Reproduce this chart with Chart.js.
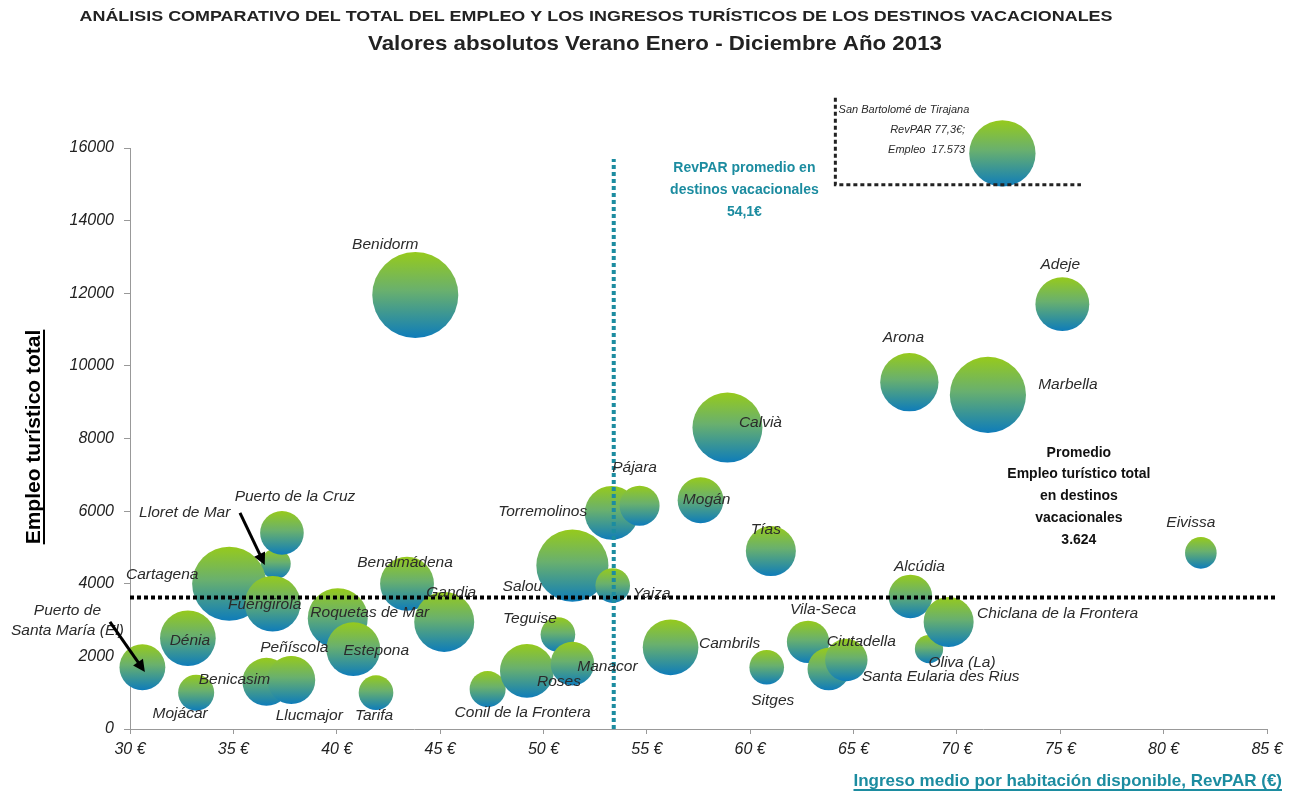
<!DOCTYPE html>
<html>
<head>
<meta charset="utf-8">
<title>Empleo e ingresos turísticos 2013</title>
<script src="https://cdn.jsdelivr.net/npm/chart.js@4/dist/chart.umd.min.js"></script>
<style>
    html, body { margin: 0; padding: 0; background: #fff; overflow: hidden; }
    #wrap { width: 1301px; height: 793px; position: relative; }
    #wrap canvas { display: block; }
</style>
</head>
<body>
<div id="wrap"><canvas id="burbujas"></canvas></div>
<script>
// destinos vacacionales
const destinos = [
    'Puerto de\nSanta María (El)', 'Mojácar', 'Dénia', 'Lloret de Mar', 'Cartagena', 'Puerto de la Cruz',
    'Fuengirola', 'Benicasim', 'Peñíscola', 'Llucmajor', 'Tarifa', 'Roquetas de Mar', 'Estepona',
    'Benalmádena', 'Gandia', 'Benidorm', 'Conil de la Frontera', 'Roses', 'Teguise', 'Manacor',
    'Salou', 'Torremolinos', 'Yaiza', 'Pájara', 'Mogán', 'Calvià', 'Cambrils', 'Sitges', 'Tías',
    'Vila-Seca', 'Santa Eularia des Rius', 'Ciutadella', 'Oliva (La)', 'Alcúdia',
    'Chiclana de la Frontera', 'Arona', 'Marbella', 'Adeje', 'Eivissa', 'San Bartolomé de Tirajana'
];
// RevPAR (€)
const revpar = [
    30.6, 33.2, 32.8, 37.05, 34.8, 37.35,
    36.9, 36.6, 37.8, 37.8, 41.9, 40.05, 40.8,
    43.4, 45.2, 43.8, 47.3, 49.2, 50.7, 51.4,
    51.4, 53.3, 53.35, 54.65, 57.6, 58.9, 56.15, 60.8, 61.0,
    62.8, 63.8, 64.65, 68.65, 67.75,
    69.6, 67.7, 71.5, 75.1, 81.8, 72.2
];
// Empleo turístico total
const empleo = [
    1700, 1000, 2500, 4550, 4000, 5400,
    3450, 1300, 1400, 1350, 1000, 3050, 2200,
    4000, 2950, 11950, 1100, 1600, 2600, 1800,
    4500, 5950, 3950, 6150, 6300, 8300, 2250, 1700, 4900,
    2400, 1650, 1900, 2200, 3650,
    2950, 9550, 9200, 11700, 4850, 15850
];
// tamaño relativo de la burbuja
const tamano = [
    21, 13, 31, 9, 55, 19,
    31, 23, 19, 23, 12, 36, 29,
    29, 36, 74, 13, 29, 12, 19,
    52, 29, 12, 16, 21, 49, 31, 12, 25,
    18, 18, 18, 8, 19,
    25, 34, 58, 29, 10, 44
];

const promedioRevpar = 54.1;
const promedioEmpleo = 3624;
const lineaRevpar = 53.4;   // posición dibujada de la línea vertical

// posicion de las etiquetas respecto al centro (px)
const etiquetaDx = [
    -75, -16, 2, -91, -67, 13,
    -8, -32, 3, 18, -2, 32, 23,
    -2, 7, -30, 35, 32, -28, 35,
    -50, -69, 39, -5, 6, 33, 59, 6, -5,
    15, 112, 15, 33, 9,
    109, -6, 80, -2, -10, null
];
const etiquetaDy = [
    -47, 21, 2, -51, -9, -36,
    1, -2, -30, 36, 23, -6, 2,
    -21, -29, -50, 24, 11, -16, 3,
    21, -1, 8, -38, -1, -5, -4, 33, -21,
    -32, 8, -18, 14, -30,
    -8, -45, -10, -39, -30, null
];

const TEAL = 'rgb(28, 140, 160)';
const FONT = '"Liberation Sans", Arial, sans-serif';

function getData()
{
    let datos = [];
    for ( let i = 0; i < destinos.length; i++ )
    {
        datos.push( { x: revpar[ i ], y: empleo[ i ], r: Math.sqrt( tamano[ i ] ) * 5 } );
    }
    return datos;
}

function gradiente( context )
{
    const chart = context.chart;
    if ( !chart.chartArea || !context.raw )
    {
        return 'rgb(95, 170, 120)';
    }
    const yPx = chart.scales.y.getPixelForValue( context.raw.y );
    const r = context.raw.r;
    const g = chart.ctx.createLinearGradient( 0, yPx - r, 0, yPx + r );
    g.addColorStop( 0, 'rgb(150, 202, 28)' );
    g.addColorStop( 0.45, 'rgb(105, 176, 110)' );
    g.addColorStop( 1, 'rgb(14, 124, 186)' );
    return g;
}

function flecha( ctx, x1, y1, x2, y2 )
{
    const ang = Math.atan2( y2 - y1, x2 - x1 );
    ctx.save();
    ctx.strokeStyle = '#000';
    ctx.fillStyle = '#000';
    ctx.lineWidth = 3;
    ctx.beginPath();
    ctx.moveTo( x1, y1 );
    ctx.lineTo( x2 - 8 * Math.cos( ang ), y2 - 8 * Math.sin( ang ) );
    ctx.stroke();
    ctx.beginPath();
    ctx.moveTo( x2, y2 );
    ctx.lineTo( x2 - 12 * Math.cos( ang ) + 6 * Math.sin( ang ), y2 - 12 * Math.sin( ang ) - 6 * Math.cos( ang ) );
    ctx.lineTo( x2 - 12 * Math.cos( ang ) - 6 * Math.sin( ang ), y2 - 12 * Math.sin( ang ) + 6 * Math.cos( ang ) );
    ctx.closePath();
    ctx.fill();
    ctx.restore();
}

function textoSubrayado( ctx, texto, x, y, align )
{
    ctx.textAlign = align;
    ctx.fillText( texto, x, y );
    const w = ctx.measureText( texto ).width;
    const x0 = align === 'right' ? x - w : ( align === 'center' ? x - w / 2 : x );
    ctx.fillRect( x0, y + 3, w, 2 );
}

// texto centrado y estirado/comprimido a un ancho dado
function textoAncho( ctx, texto, cx, y, ancho )
{
    const w = ctx.measureText( texto ).width;
    ctx.save();
    ctx.translate( cx, y );
    ctx.scale( ancho / w, 1 );
    ctx.textAlign = 'center';
    ctx.fillText( texto, 0, 0 );
    ctx.restore();
}

const decoracion = {
    id: 'decoracion',
    afterDatasetsDraw( chart )
    {
        const ctx = chart.ctx;
        const sx = chart.scales.x;
        const sy = chart.scales.y;
        const px = v => sx.getPixelForValue( v );
        const py = v => sy.getPixelForValue( v );

        ctx.save();
        ctx.lineCap = 'butt';
        ctx.lineWidth = 4;
        ctx.setLineDash( [ 4, 3 ] );

        // promedio empleo
        ctx.strokeStyle = '#000';
        ctx.beginPath();
        ctx.moveTo( sx.left, py( promedioEmpleo ) );
        ctx.lineTo( sx.right + 8, py( promedioEmpleo ) );
        ctx.stroke();

        // promedio revpar
        ctx.strokeStyle = TEAL;
        ctx.beginPath();
        ctx.moveTo( px( lineaRevpar ), sy.bottom );
        ctx.lineTo( px( lineaRevpar ), py( 15700 ) );
        ctx.stroke();

        // recuadro San Bartolomé
        ctx.strokeStyle = '#222';
        ctx.lineWidth = 3;
        ctx.beginPath();
        ctx.moveTo( px( 64.12 ), py( 17384 ) );
        ctx.lineTo( px( 64.12 ), py( 14988 ) );
        ctx.lineTo( px( 76.0 ), py( 14988 ) );
        ctx.stroke();
        ctx.restore();

        // etiquetas
        const meta = chart.getDatasetMeta( 0 );
        ctx.save();
        ctx.font = 'italic 15.5px ' + FONT;
        ctx.fillStyle = '#2b2b2b';
        ctx.textAlign = 'center';
        ctx.textBaseline = 'middle';
        meta.data.forEach( ( el, i ) =>
        {
            if ( etiquetaDx[ i ] === null ) return;
            const lineas = destinos[ i ].split( '\n' );
            const y0 = el.y + etiquetaDy[ i ] - ( lineas.length - 1 ) * 10;
            lineas.forEach( ( l, k ) => ctx.fillText( l, el.x + etiquetaDx[ i ], y0 + k * 20 ) );
        } );

        // texto San Bartolomé
        ctx.font = 'italic 11px ' + FONT;
        ctx.textAlign = 'right';
        ctx.fillText( 'San Bartolomé de Tirajana', px( 70.6 ), py( 17050 ) );
        ctx.fillText( 'RevPAR 77,3€;', px( 70.4 ), py( 16500 ) );
        ctx.fillText( 'Empleo  17.573', px( 70.4 ), py( 15950 ) );

        // flechas
        flecha( ctx, px( 35.32 ), py( 5951 ), px( 36.52 ), py( 4518 ) );
        flecha( ctx, px( 29.03 ), py( 2948 ), px( 30.72 ), py( 1570 ) );

        // texto promedio revpar
        ctx.font = 'bold 14px ' + FONT;
        ctx.fillStyle = TEAL;
        ctx.textAlign = 'center';
        ctx.fillText( 'RevPAR promedio en', px( 59.72 ), py( 15456 ) );
        ctx.fillText( 'destinos vacacionales', px( 59.72 ), py( 14830 ) );
        ctx.fillText( '54,1€', px( 59.72 ), py( 14230 ) );

        // texto promedio empleo
        ctx.fillStyle = '#111';
        const lineasProm = [ 'Promedio', 'Empleo turístico total', 'en destinos', 'vacacionales', '3.624' ];
        lineasProm.forEach( ( l, k ) => ctx.fillText( l, px( 75.9 ), py( 7604 ) + k * 21.7 ) );
        ctx.restore();
    },
    afterDraw( chart )
    {
        const ctx = chart.ctx;
        ctx.save();
        ctx.fillStyle = '#222';
        ctx.textBaseline = 'middle';
        ctx.font = 'bold 14px ' + FONT;
        textoAncho( ctx, 'ANÁLISIS COMPARATIVO DEL TOTAL DEL EMPLEO Y LOS INGRESOS TURÍSTICOS DE LOS DESTINOS VACACIONALES', 596, 17, 1033 );
        ctx.font = 'bold 21px ' + FONT;
        textoAncho( ctx, 'Valores absolutos Verano Enero - Diciembre Año 2013', 655, 44, 574 );

        // titulo eje x
        ctx.fillStyle = TEAL;
        ctx.font = 'bold 17px ' + FONT;
        ctx.textBaseline = 'alphabetic';
        textoSubrayado( ctx, 'Ingreso medio por habitación disponible, RevPAR (€)', 1282, 786, 'right' );

        // titulo eje y
        ctx.translate( 40, 437 );
        ctx.rotate( -Math.PI / 2 );
        ctx.fillStyle = '#000';
        ctx.font = 'bold 21px ' + FONT;
        textoSubrayado( ctx, 'Empleo turístico total', 0, 0, 'center' );
        ctx.restore();
    }
};

const config = {
    type: 'bubble',
    data: {
        datasets: [
            {
                label: 'Destinos',
                data: getData(),
                backgroundColor: gradiente,
                borderWidth: 0,
                hoverBorderWidth: 0,
                clip: false
            }
        ]
    },
    options: {
        responsive: true,
        maintainAspectRatio: false,
        animation: false,
        events: [],
        layout: {
            autoPadding: false,
            padding: { top: 148, right: 34, left: 0, bottom: 0 }
        },
        plugins: {
            legend: { display: false },
            title: { display: false },
            tooltip: { enabled: false }
        },
        scales: {
            x: {
                type: 'linear',
                min: 30,
                max: 85,
                afterFit: function ( scale )
                {
                    scale.height = 64;
                    scale.paddingLeft = 0;
                    scale.paddingRight = 0;
                },
                ticks: {
                    stepSize: 5,
                    padding: 6,
                    color: '#222',
                    font: { family: FONT, size: 16, style: 'italic' },
                    callback: function ( value ) { return value + ' €'; }
                },
                grid: { drawOnChartArea: false, drawTicks: true, tickLength: 5, color: '#999' },
                border: { color: '#999' }
            },
            y: {
                min: 0,
                max: 16000,
                afterFit: function ( scale ) { scale.width = 130; },
                ticks: {
                    stepSize: 2000,
                    padding: 10,
                    color: '#222',
                    font: { family: FONT, size: 16, style: 'italic' },
                    callback: function ( value ) { return value.toString(); }
                },
                grid: { drawOnChartArea: false, drawTicks: true, tickLength: 6, color: '#999' },
                border: { color: '#999' }
            }
        }
    },
    plugins: [ decoracion ]
};

new Chart( document.getElementById( 'burbujas' ).getContext( '2d' ), config );
</script>
</body>
</html>
